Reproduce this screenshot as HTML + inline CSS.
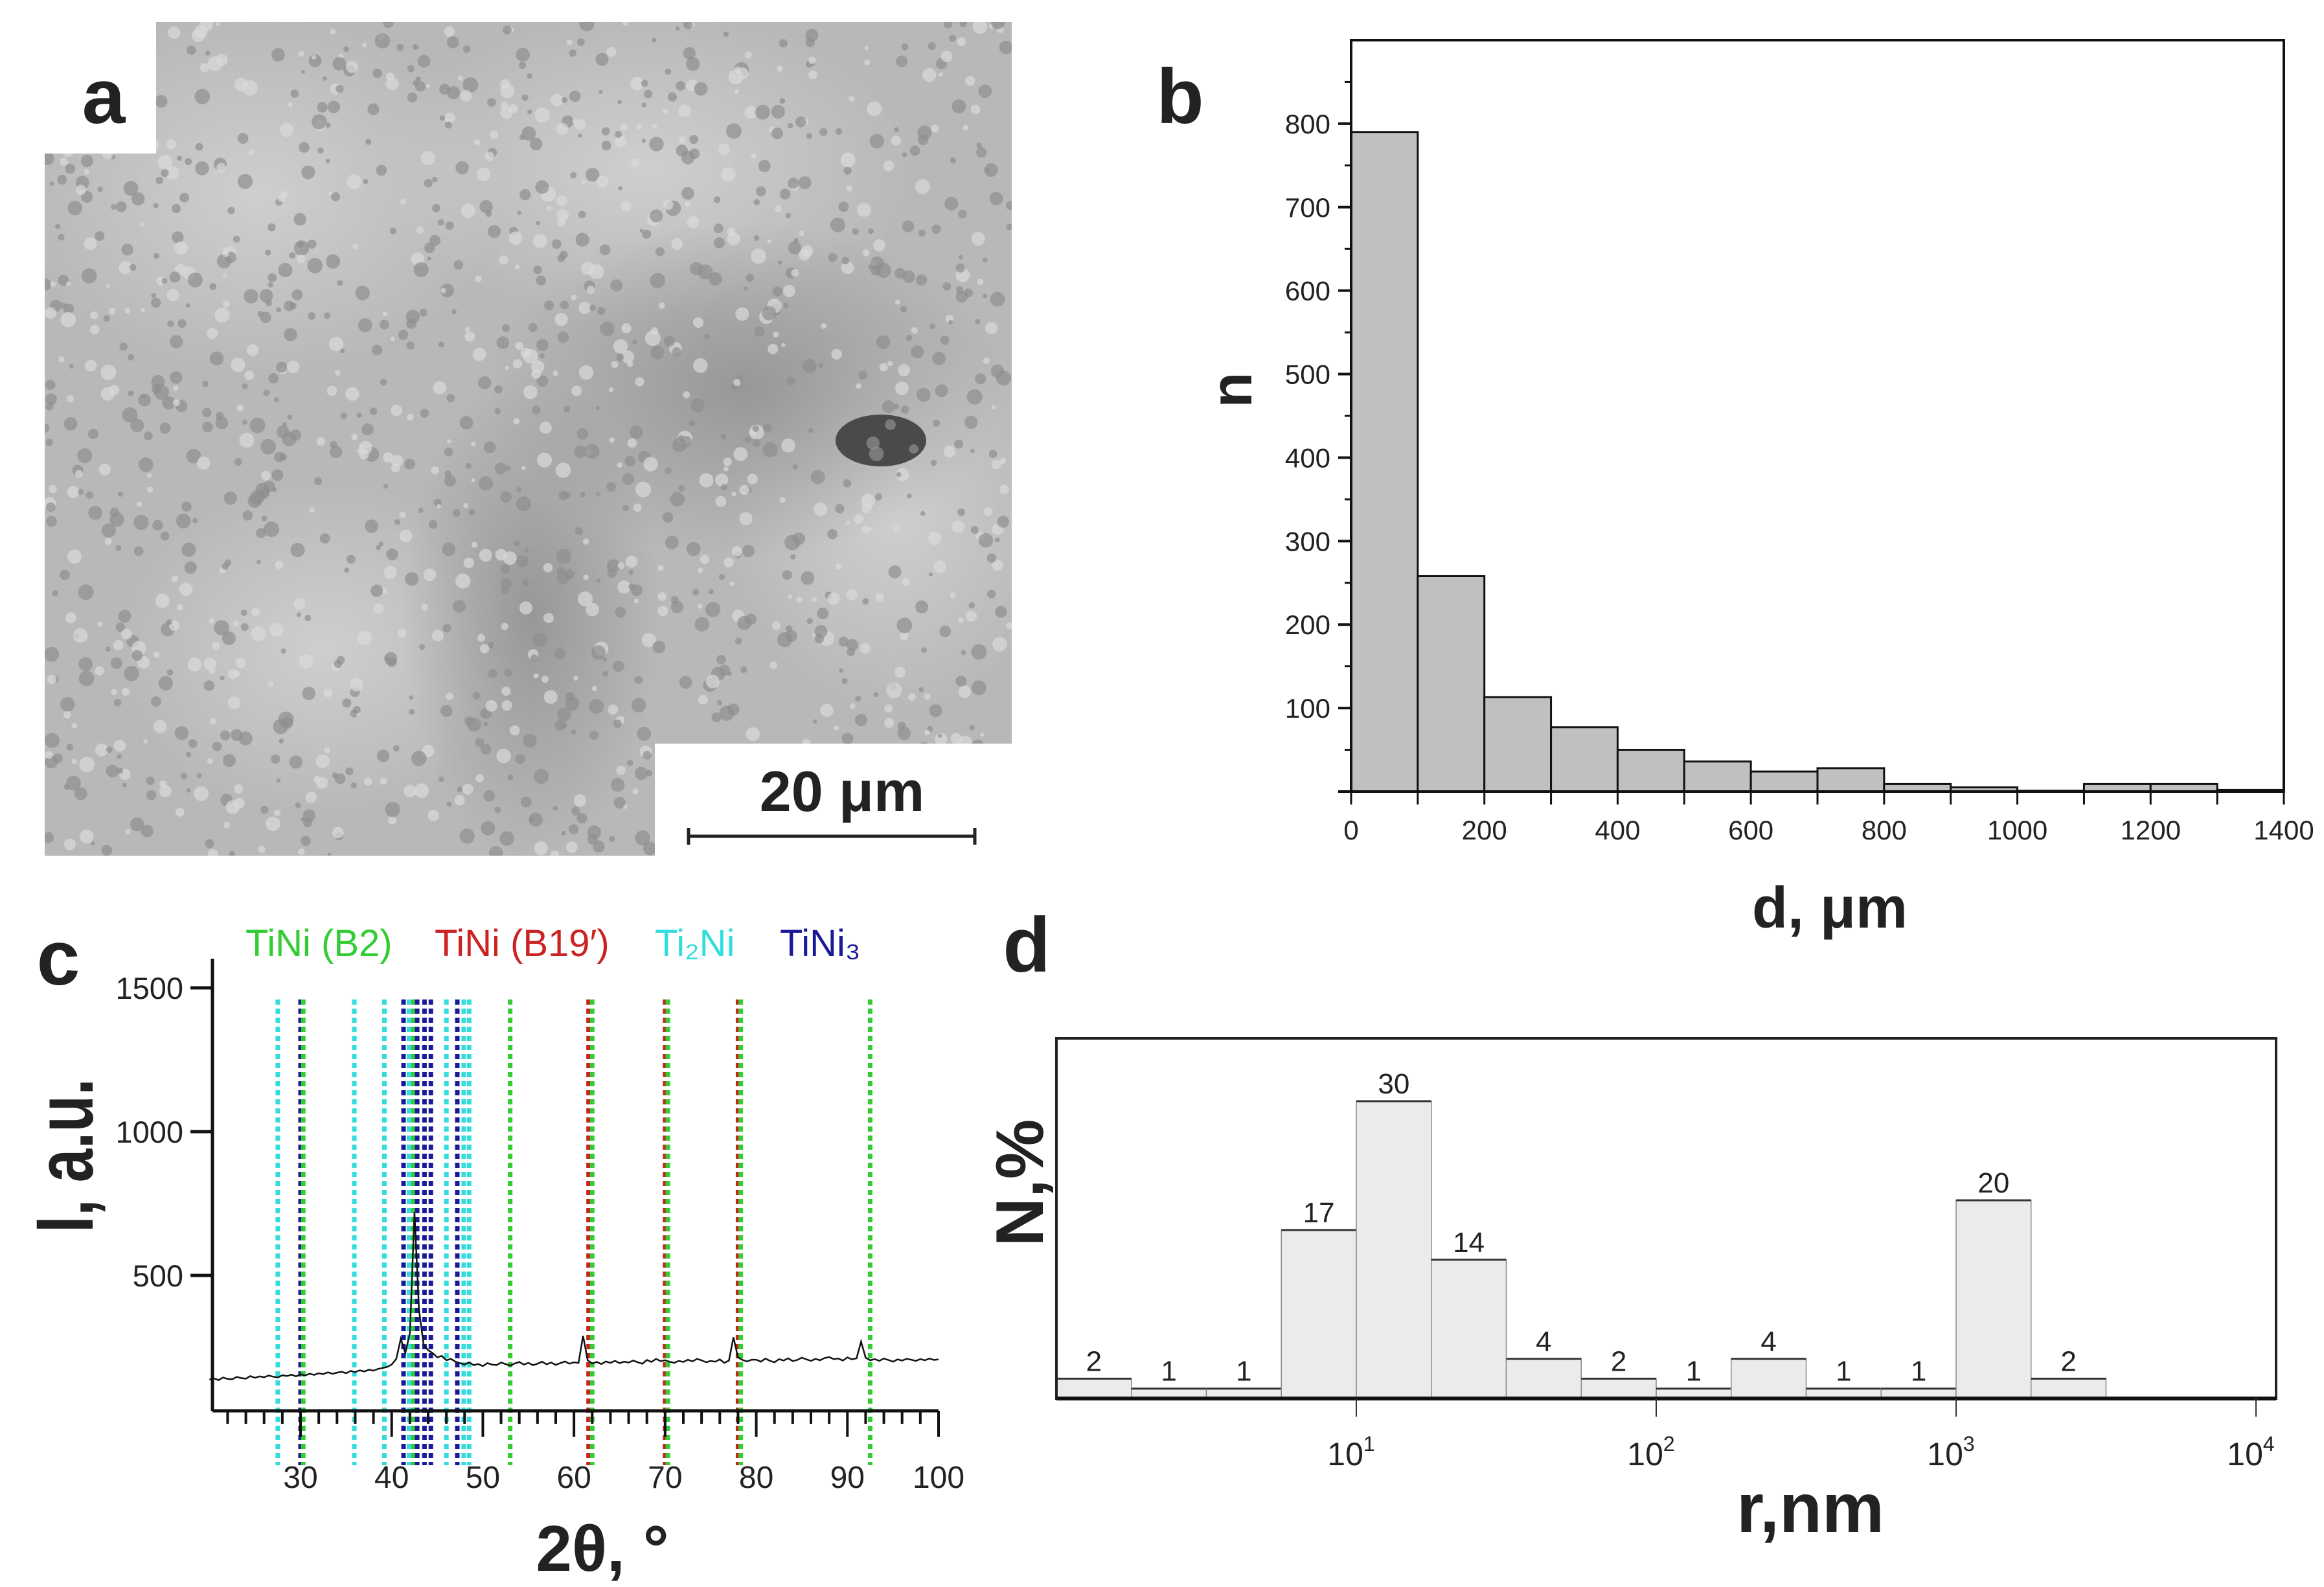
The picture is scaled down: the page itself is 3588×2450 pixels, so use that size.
<!DOCTYPE html>
<html><head><meta charset="utf-8"><style>
html,body{margin:0;padding:0;background:#fff}
svg{display:block;font-family:"Liberation Sans",Arial,sans-serif}
</style></head><body>
<svg id="fig" width="3588" height="2450" viewBox="0 0 3588 2450" xmlns="http://www.w3.org/2000/svg">
<rect width="3588" height="2450" fill="#fff"/>
<!-- Panel a: SEM image -->
<g id="panelA">
  <defs>
    <radialGradient id="blobL" cx="50%" cy="50%" r="50%"><stop offset="0" stop-color="#d4d4d4" stop-opacity="0.8"/><stop offset="1" stop-color="#d4d4d4" stop-opacity="0"/></radialGradient>
    <radialGradient id="blobD" cx="50%" cy="50%" r="50%"><stop offset="0" stop-color="#8a8a8a" stop-opacity="0.7"/><stop offset="1" stop-color="#8a8a8a" stop-opacity="0"/></radialGradient>
    <clipPath id="semClip"><rect x="69" y="34" width="1493" height="1287"/></clipPath>
  </defs>
  <g clip-path="url(#semClip)">
  <rect x="69" y="34" width="1493" height="1287" fill="#b8b8b8"/>
  <ellipse cx="400" cy="300" rx="380" ry="280" fill="url(#blobL)"/>
  <ellipse cx="1000" cy="260" rx="420" ry="240" fill="url(#blobL)"/>
  <ellipse cx="1380" cy="800" rx="260" ry="300" fill="url(#blobL)"/>
  <ellipse cx="500" cy="1000" rx="320" ry="260" fill="url(#blobL)"/>
  <ellipse cx="1150" cy="600" rx="400" ry="260" fill="url(#blobD)"/>
  <ellipse cx="820" cy="950" rx="200" ry="380" fill="url(#blobD)"/>
  <ellipse cx="1360" cy="680" rx="70" ry="40" fill="#4a4a4a"/>
  <g id="semDots"></g>
  </g>
  <rect x="69" y="34" width="172" height="203" fill="#fff"/>
  <text x="160" y="190" font-size="120" font-weight="bold" text-anchor="middle" fill="#222">a</text>
  <rect x="1011" y="1148" width="551" height="173" fill="#fff"/>
  <text x="1300" y="1252" font-size="88" font-weight="bold" text-anchor="middle" fill="#222">20 μm</text>
  <g stroke="#222" stroke-width="5">
    <line x1="1063" y1="1291" x2="1505" y2="1291"/><line x1="1063" y1="1278" x2="1063" y2="1304"/><line x1="1505" y1="1278" x2="1505" y2="1304"/>
  </g>
</g>
<g id="panelB"></g>
<g id="panelC"></g>
<g id="panelD"></g>
</svg>
<script>
// ---- Panel b data ----
const bBinStarts = [0,100,200,300,400,500,600,700,800,900,1000,1100,1200,1300];
const bCounts = [790,258,113,77,50,36,24,28,9,5,1,9,9,2];
const bYTicks = [100,200,300,400,500,600,700,800];
const bXTicks = [0,200,400,600,800,1000,1200,1400];
// ---- Panel c data ----
const cStart = 20, cStep = 0.5;
const cIntensity = [138,142,136,145,140,139,147,143,141,150,144,149,146,152,148,145,153,150,155,149,156,
152,158,154,160,157,163,158,162,165,160,168,164,170,166,172,169,175,178,182,
190,210,280,230,300,720,380,260,240,230,215,220,205,210,200,195,190,198,188,192,
185,195,190,188,197,192,186,194,199,190,196,188,193,200,191,197,189,195,201,193,
198,196,290,205,194,199,192,201,196,203,195,200,197,204,198,193,206,199,210,202,
205,200,196,203,199,207,201,210,205,198,203,200,208,196,204,285,215,206,201,207,
207,200,211,203,198,209,204,212,202,206,214,208,203,210,205,213,216,209,211,204,
215,208,212,270,214,205,209,203,211,206,200,208,204,210,207,203,209,205,211,206,208];
const cYTicks = [500,1000,1500];
const cXTicks = [30,40,50,60,70,80,90,100];
const cRefAngles = [27.5,30.0,30.3,35.9,39.2,41.3,41.9,42.4,42.8,43.6,44.3,46.0,47.2,47.9,48.5,53.0,61.6,62.0,70.0,70.3,78.0,78.3,92.5];
const cRefPhases = ['Ti2Ni','TiNi3','B2','Ti2Ni','Ti2Ni','TiNi3','Ti2Ni','B2','TiNi3','TiNi3','TiNi3','Ti2Ni','TiNi3','Ti2Ni','Ti2Ni','B2','B19','B2','B19','B2','B19','B2','B2'];
// ---- Panel d data ----
const dBinLogStarts = [0,0.25,0.5,0.75,1,1.25,1.5,1.75,2,2.25,2.5,2.75,3,3.25];
const dPercent = [2,1,1,17,30,14,4,2,1,4,1,1,20,2];
const dXTickExp = [1,2,3,4];

const NS='http://www.w3.org/2000/svg';
function mk(parent,tag,attrs,text){const e=document.createElementNS(NS,tag);for(const k in attrs)e.setAttribute(k,attrs[k]);if(text!==undefined)e.textContent=text;parent.appendChild(e);return e;}

// SEM texture dots (decorative)
(function(){const g=document.getElementById('semDots');let s=7;function r(){s=(s*9301+49297)%233280;return s/233280;}
for(let i=0;i<1400;i++){const x=69+r()*1493,y=34+r()*1287;
const c=mk(g,'circle',{cx:x.toFixed(1),cy:y.toFixed(1),r:(3+r()*9).toFixed(1),fill:r()<0.6?'#8f8f8f':'#dadada','fill-opacity':0.7});

}})();

// ---- Panel b ----
(function(){const g=document.getElementById('panelB');
const x0=2086,x1=3526,yb=1222,yt=62;const xs=v=>x0+(v/1400)*(x1-x0);const ys=v=>yb-(v/900)*(yb-yt);
bBinStarts.forEach((b,i)=>{const r=mk(g,'rect',{x:xs(b),y:ys(bCounts[i]),width:xs(b+100)-xs(b),height:yb-ys(bCounts[i]),fill:'#c0c0c0',stroke:'#111','stroke-width':3});

});
const box=mk(g,'rect',{x:x0,y:yt,width:x1-x0,height:yb-yt,fill:'none',stroke:'#111','stroke-width':4});


mk(g,'line',{x1:x0-20,y1:yb,x2:x1,y2:yb,stroke:'#111','stroke-width':4});
bYTicks.forEach(t=>{mk(g,'line',{x1:x0-20,y1:ys(t),x2:x0,y2:ys(t),stroke:'#111','stroke-width':4});
const l=mk(g,'text',{x:x0-32,y:ys(t)+15,'font-size':42,'text-anchor':'end',fill:'#222'},String(t));

});
for(let t=50;t<900;t+=100)mk(g,'line',{x1:x0-10,y1:ys(t),x2:x0,y2:ys(t),stroke:'#111','stroke-width':3});
for(let t=0;t<=1400;t+=100)mk(g,'line',{x1:xs(t),y1:yb,x2:xs(t),y2:yb+20,stroke:'#111','stroke-width':3});
bXTicks.forEach(t=>{const l=mk(g,'text',{x:xs(t),y:1296,'font-size':42,'text-anchor':'middle',fill:'#222'},String(t));

});
const xt=mk(g,'text',{x:2825,y:1432,'font-size':90,'font-weight':'bold','text-anchor':'middle',fill:'#222'},'d, μm');


const yt2=mk(g,'text',{x:0,y:0,'font-size':90,'font-weight':'bold','text-anchor':'middle',fill:'#222',transform:'translate(1932,602) rotate(-90)'},'n');


const pl=mk(g,'text',{x:1822,y:190,'font-size':120,'font-weight':'bold','text-anchor':'middle',fill:'#222'},'b');

})();

// ---- Panel c ----
(function(){const g=document.getElementById('panelC');
const x0=328,xr=1449;const xs=v=>464+(v-30)*(xr-464)/70;const ys=v=>2191-v*0.444;const yb=2178;
const colors={B2:'#33cc33',B19:'#cc2222',Ti2Ni:'#33dddd',TiNi3:'#1a1a99'};
cRefAngles.forEach((a,i)=>{const l=mk(g,'line',{x1:xs(a),y1:1543,x2:xs(a),y2:2262,stroke:colors[cRefPhases[i]],'stroke-width':7,'stroke-dasharray':'8 6'});

});
const pts=cIntensity.map((v,i)=>xs(cStart+i*cStep).toFixed(1)+','+ys(v).toFixed(1)).join(' ');
const pl=mk(g,'polyline',{points:pts,fill:'none',stroke:'#111','stroke-width':2.5});


mk(g,'line',{x1:x0,y1:1480,x2:x0,y2:yb,stroke:'#111','stroke-width':5});
mk(g,'line',{x1:x0,y1:yb,x2:xr,y2:yb,stroke:'#111','stroke-width':5});
cYTicks.forEach(t=>{mk(g,'line',{x1:x0-34,y1:ys(t),x2:x0,y2:ys(t),stroke:'#111','stroke-width':5});
const l=mk(g,'text',{x:x0-45,y:ys(t)+17,'font-size':47,'text-anchor':'end',fill:'#222'},String(t));

});
for(let t=22;t<=100;t+=2){const maj=t%10===0;mk(g,'line',{x1:xs(t),y1:yb,x2:xs(t),y2:yb+(maj?40:20),stroke:'#111','stroke-width':4});}
cXTicks.forEach(t=>{const l=mk(g,'text',{x:xs(t),y:2297,'font-size':48,'text-anchor':'middle',fill:'#222'},String(t));

});
const leg=[['TiNi (B2)',379,'#33cc33'],['TiNi (B19′)',671,'#cc2222'],['Ti₂Ni',1011,'#33dddd'],['TiNi₃',1204,'#1a1a99']];
leg.forEach(e=>{const l=mk(g,'text',{x:e[1],y:1476,'font-size':58,fill:e[2]},e[0]);

});
const xt=mk(g,'text',{x:930,y:2425,'font-size':100,'font-weight':'bold','text-anchor':'middle',fill:'#222'},'2θ, °');


const yt=mk(g,'text',{x:0,y:0,'font-size':125,'font-weight':'bold','text-anchor':'middle',fill:'#222',textLength:238,lengthAdjust:'spacingAndGlyphs',transform:'translate(143,1784) rotate(-90)'},'I, a.u.');


const p=mk(g,'text',{x:90,y:1520,'font-size':120,'font-weight':'bold','text-anchor':'middle',fill:'#222'},'c');

})();

// ---- Panel d ----
(function(){const g=document.getElementById('panelD');
const x0=1631,x1=3514,yt=1603,yb=2159;const xs=l=>1631+l*463;const ys=v=>yb-v*15.3;
dBinLogStarts.forEach((b,i)=>{const v=dPercent[i];
const r=mk(g,'rect',{x:xs(b),y:ys(v),width:463/4,height:yb-ys(v),fill:'#ebebeb',stroke:'#888','stroke-width':1.5});


mk(g,'line',{x1:xs(b),y1:ys(v),x2:xs(b+0.25),y2:ys(v),stroke:'#333','stroke-width':3});
const l=mk(g,'text',{x:xs(b)+463/8,y:ys(v)-12,'font-size':44,'text-anchor':'middle',fill:'#222'},String(v));

});
const box=mk(g,'rect',{x:x0,y:yt,width:x1-x0,height:yb-yt,fill:'none',stroke:'#222','stroke-width':4});


mk(g,'line',{x1:x0,y1:yb,x2:x1,y2:yb,stroke:'#111','stroke-width':6});
dXTickExp.forEach(e=>{mk(g,'line',{x1:xs(e),y1:yb,x2:xs(e),y2:yb+28,stroke:'#333','stroke-width':2});
const t=mk(g,'text',{x:xs(e)-8,y:2262,'font-size':50,'text-anchor':'middle',fill:'#222'});


mk(t,'tspan',{},'10');mk(t,'tspan',{dy:-22,'font-size':32},String(e));});
const xt=mk(g,'text',{x:2795,y:2365,'font-size':108,'font-weight':'bold','text-anchor':'middle',fill:'#222'},'r,nm');


const ytl=mk(g,'text',{x:0,y:0,'font-size':104,'font-weight':'bold','text-anchor':'middle',fill:'#222',transform:'translate(1610,1826) rotate(-90)'},'N,%');


const p=mk(g,'text',{x:1585,y:1500,'font-size':120,'font-weight':'bold','text-anchor':'middle',fill:'#222'},'d');

})();
</script>
</body></html>
